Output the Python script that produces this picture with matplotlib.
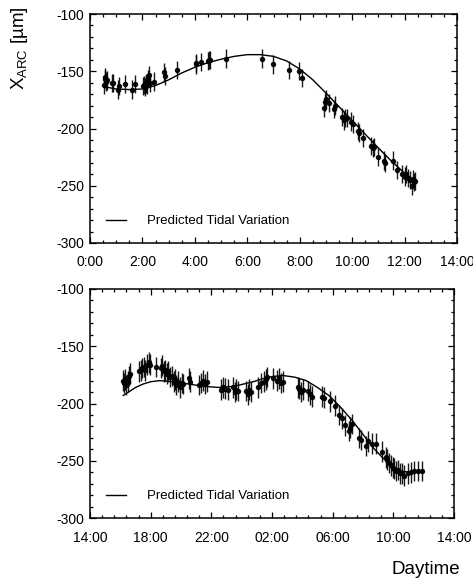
import matplotlib
matplotlib.use("Agg")
import matplotlib.pyplot as plt
from matplotlib.ticker import MultipleLocator, FixedLocator, FixedFormatter

plt.rcParams["font.family"] = ["Liberation Sans", "DejaVu Sans"]
plt.rcParams["mathtext.fontset"] = "custom"
plt.rcParams["mathtext.rm"] = "Liberation Sans"
plt.rcParams["axes.unicode_minus"] = False

# --- first run: hours after midnight, orbit position in micrometres ---
TOP_T = [0.53, 0.56, 0.58, 0.62, 0.66, 0.83, 0.86, 1.06, 1.12, 1.32, 1.62, 1.73,
         2.01, 2.05, 2.08, 2.12, 2.15, 2.19, 2.22, 2.25, 2.29, 2.43, 2.84, 2.87,
         3.32, 4.03, 4.06, 4.24, 4.50, 4.54, 4.58, 5.17, 6.55, 6.97, 7.61, 7.96,
         8.08, 8.93, 8.97, 9.02, 9.13, 9.31, 9.34, 9.63, 9.69, 9.74, 9.80, 9.95,
         10.02, 10.21, 10.26, 10.43, 10.71, 10.79, 10.85, 11.00, 11.22, 11.26,
         11.54, 11.73, 11.89, 12.02, 12.07, 12.14, 12.21, 12.27, 12.33, 12.36, 12.41]
TOP_X = [-162, -157, -155, -159, -158, -160, -160, -166, -163, -161, -166, -161,
         -163, -162, -164, -160, -161, -162, -157, -153, -160, -159, -151, -154,
         -149, -143, -144, -142, -141, -140, -140, -139, -139, -144, -149, -150,
         -156, -182, -177, -174, -178, -183, -180, -190, -193, -191, -191, -194,
         -196, -202, -204, -208, -215, -217, -216, -225, -228, -230,
         -228, -236, -240, -242, -240, -243, -245, -250, -244, -247, -246]
TOP_ERR = 8.0

TOP_TIDE_T = [0.55, 1.0, 1.5, 2.0, 2.5, 3.0, 3.5, 4.0, 4.5, 5.0, 5.5, 6.0, 6.5,
              7.0, 7.5, 8.0, 8.5, 9.0, 9.5, 10.0, 10.5, 11.0, 11.5, 12.0, 12.4]
TOP_TIDE_X = [-163.5, -165.5, -166, -165.5, -162.5, -157.5, -151.5, -146.5, -142.5,
              -139.5, -137, -135.5, -135.5, -137, -141, -148, -157.5, -169, -181,
              -193, -205, -217, -228.5, -239, -246]

# --- second run: hours after 14:00 ---
BOT_T = [2.15, 2.22, 2.30, 2.38, 2.50, 2.58, 2.65, 3.25, 3.35, 3.45, 3.55, 3.65,
         3.78, 3.88, 3.98, 4.34, 4.68, 4.75, 4.85, 4.95, 5.05, 5.15, 5.28, 5.40,
         5.52, 5.60, 5.70, 5.80, 5.92, 6.05, 6.15, 6.55, 6.62, 7.20, 7.30, 7.45,
         7.58, 7.70, 8.65, 8.80, 8.90, 9.10, 9.40, 9.55, 9.65, 9.75, 10.30, 10.40,
         10.50, 10.60, 11.07, 11.30, 11.45, 11.58, 11.70, 12.06, 12.35, 12.45,
         12.60, 12.70, 13.70, 13.80, 13.90, 14.05, 14.35, 14.50, 14.65, 15.30,
         15.40, 15.80, 16.15, 16.45, 16.62, 16.84, 17.06, 17.15, 17.25, 17.72,
         17.85, 18.20, 18.31, 18.60, 18.86, 19.26, 19.52, 19.60, 19.74, 19.85,
         19.96, 20.05, 20.18, 20.30, 20.45, 20.57, 20.72, 20.94, 21.16, 21.38,
         21.60, 21.89]
BOT_X = [-180, -182, -179, -184, -181, -176, -174, -172, -171, -169, -168, -171,
         -166, -164, -166, -168, -169, -167, -172, -171, -174, -172, -177, -176,
         -181, -179, -184, -181, -186, -182, -183, -178, -181, -184, -182, -180,
         -183, -181, -188, -186, -187, -188, -186, -190, -188, -189, -189, -192,
         -188, -190, -186, -182, -181, -179, -177, -178, -180, -178,
         -182, -181, -186, -187, -190, -188, -189, -192, -194, -194,
         -195, -198, -202, -210, -213, -219, -224, -221, -218, -230,
         -232, -237, -233, -235, -235, -242, -247, -249, -252, -254,
         -256, -257, -259, -258, -261, -261, -263, -261, -260, -259,
         -259, -259]
BOT_ERR = 9.0

BOT_TIDE_T = [2.19, 2.6, 3.0, 3.5, 4.0, 4.6, 5.5, 6.5, 7.5, 8.5, 9.5, 10.75, 11.5,
              12.0, 12.7, 13.5, 14.25, 15.0, 15.8, 16.5, 17.3, 18.0, 18.7, 19.3,
              19.8, 20.2, 20.7, 21.2, 21.8]
BOT_TIDE_X = [-193, -189.5, -186, -183, -181, -180, -181, -183, -185, -186, -185,
              -181, -178, -176.5, -175.5, -177, -180, -186, -193.5, -203, -215,
              -227, -239, -247.5, -253.5, -257.5, -259.5, -260, -259]

TOP_TICKS = [0, 2, 4, 6, 8, 10, 12, 14]
TOP_LABELS = ["0:00", "2:00", "4:00", "6:00", "8:00", "10:00", "12:00", "14:00"]
BOT_TICKS = [0, 4, 8, 12, 16, 20, 24]
BOT_LABELS = ["14:00", "18:00", "22:00", "02:00", "06:00", "10:00", "14:00"]

W, H = 473, 581
fig = plt.figure(figsize=(W / 100, H / 100), dpi=100)
ax_top = fig.add_axes([90 / W, 1 - 243 / H, 367 / W, 229 / H])
ax_bot = fig.add_axes([90 / W, 1 - 518 / H, 364 / W, 229 / H])


def draw_panel(ax, t, x, err, tide_t, tide_x, ticks, labels, xmax, minor):
    ax.plot(tide_t, tide_x, color="black", lw=1.0, label="Predicted Tidal Variation")
    ax.errorbar(t, x, yerr=err, fmt="o", color="black", ms=2.9, elinewidth=1.0,
                capsize=0, alpha=0.9)
    ax.set_xlim(0, xmax)
    ax.set_ylim(-300, -100)
    ax.xaxis.set_major_locator(FixedLocator(ticks))
    ax.xaxis.set_major_formatter(FixedFormatter(labels))
    ax.xaxis.set_minor_locator(MultipleLocator(minor))
    ax.yaxis.set_major_locator(MultipleLocator(50))
    ax.yaxis.set_minor_locator(MultipleLocator(10))
    ax.tick_params(which="both", direction="in", top=True, right=True,
                   width=0.9, labelsize=10)
    ax.tick_params(which="major", length=4.5)
    ax.tick_params(which="minor", length=2.2)
    ax.tick_params(axis="x", pad=9)
    ax.tick_params(axis="y", pad=4)
    for s in ax.spines.values():
        s.set_linewidth(1.1)
    ax.legend(loc="lower left", bbox_to_anchor=(0.03, 0.045), frameon=False,
              fontsize=9.5, handlelength=1.5, handletextpad=1.6, borderaxespad=0)


draw_panel(ax_top, TOP_T, TOP_X, TOP_ERR, TOP_TIDE_T, TOP_TIDE_X,
           TOP_TICKS, TOP_LABELS, 14, 0.5)
draw_panel(ax_bot, BOT_T, BOT_X, BOT_ERR, BOT_TIDE_T, BOT_TIDE_X,
           BOT_TICKS, BOT_LABELS, 24, 0.8)

fig.text(20 / W, 1 - 48 / H, r"X$_{\mathrm{ARC}}$ [µm]", rotation=90,
         ha="center", va="center", fontsize=13.5)
fig.text(426 / W, 1 - 570 / H, "Daytime", ha="center", va="center", fontsize=13.5)

fig.savefig("out.png", dpi=100)
